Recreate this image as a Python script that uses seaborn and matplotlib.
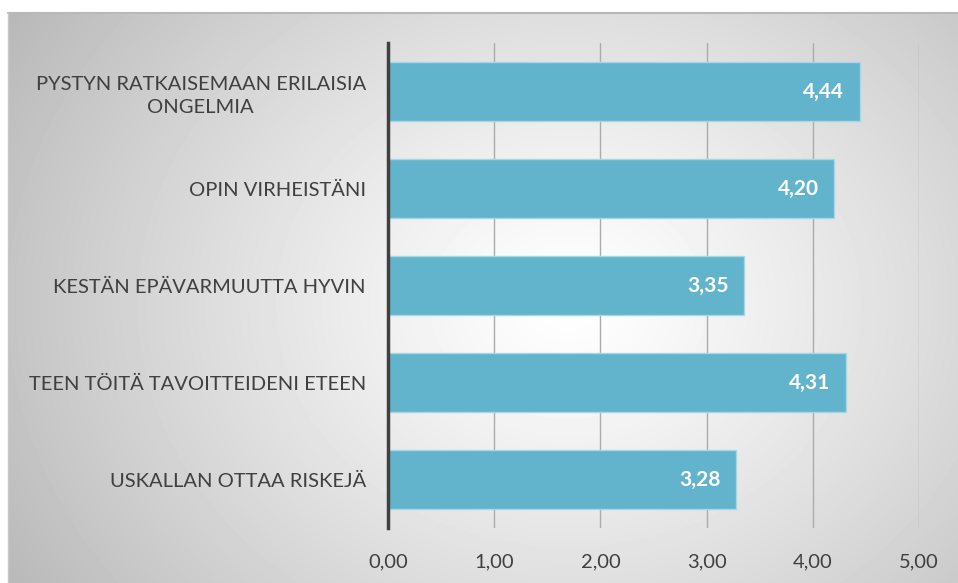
import numpy as np
import matplotlib
matplotlib.use("Agg")
import matplotlib.pyplot as plt
import seaborn as sns

# data
categories = ["PYSTYN RATKAISEMAAN ERILAISIA\nONGELMIA",
              "OPIN VIRHEISTÄNI",
              "KESTÄN EPÄVARMUUTTA HYVIN",
              "TEEN TÖITÄ TAVOITTEIDENI ETEEN",
              "USKALLAN OTTAA RISKEJÄ"]
values = [4.44, 4.20, 3.35, 4.31, 3.28]
xticks = [0, 1, 2, 3, 4, 5]

sns.set_theme(style="white")
plt.rcParams["font.family"] = ["Lato", "DejaVu Sans"]

W, H = 958, 583
fig = plt.figure(figsize=(W / 100, H / 100), dpi=100)
fig.patch.set_facecolor("white")

# radial gradient background panel
bg = fig.add_axes([8 / W, 0, (W - 8) / W, (H - 13) / H])
yy, xx = np.mgrid[0:570, 0:950]
r = np.sqrt(((xx - 560) / 600.0) ** 2 + ((yy - 290) / 500.0) ** 2)
shade = 1 - 0.25 * np.clip(r, 0, 1.2) ** 1.2
bg.imshow(shade, cmap="gray", vmin=0, vmax=1, aspect="auto",
          extent=[0, 1, 0, 1], origin="upper")
bg.set_axis_off()
bg.plot([0, 1], [1, 1], color="#b8b8b8", lw=1.5, transform=bg.transAxes, clip_on=False)
bg.plot([0, 0], [0, 1], color="#c8c8c8", lw=1.0, transform=bg.transAxes, clip_on=False)

ax = fig.add_axes([388 / W, (H - 528) / H, (919 - 388) / W, (528 - 43) / H])
ax.set_facecolor("none")

sns.barplot(x=values, y=categories, orient="h", color="#62b4cc",
            saturation=1, width=0.6, edgecolor="#a8d6e3", linewidth=1,
            ax=ax, zorder=3)

for i, v in enumerate(values):
    ax.annotate(f"{v:.2f}".replace(".", ","), xy=(v, i), xytext=(-11, 0),
                textcoords="offset points", ha="right", va="center",
                color="white", fontsize=15, fontweight="bold", zorder=5)

ax.set_xlim(0, 5)
ax.set_ylim(4.5, -0.5)
ax.set_xticks(xticks)
ax.set_xticklabels([f"{t:.2f}".replace(".", ",") for t in xticks])
ax.grid(axis="x", color="#ababab", lw=1, zorder=0)
ax.grid(axis="y", visible=False)
ax.set_xlabel("")
ax.set_ylabel("")
for s in ["top", "right", "bottom"]:
    ax.spines[s].set_visible(False)
ax.spines["left"].set_color("#404040")
ax.spines["left"].set_linewidth(2.5)
ax.spines["left"].set_zorder(6)
ax.tick_params(axis="both", length=0, labelsize=14.5, labelcolor="#404040")
ax.tick_params(axis="x", pad=18)
ax.tick_params(axis="y", pad=16)
for lab in ax.get_yticklabels():
    lab.set_multialignment("center")
    lab.set_linespacing(1.45)

fig.savefig("out.png", dpi=100)
plt.close()
